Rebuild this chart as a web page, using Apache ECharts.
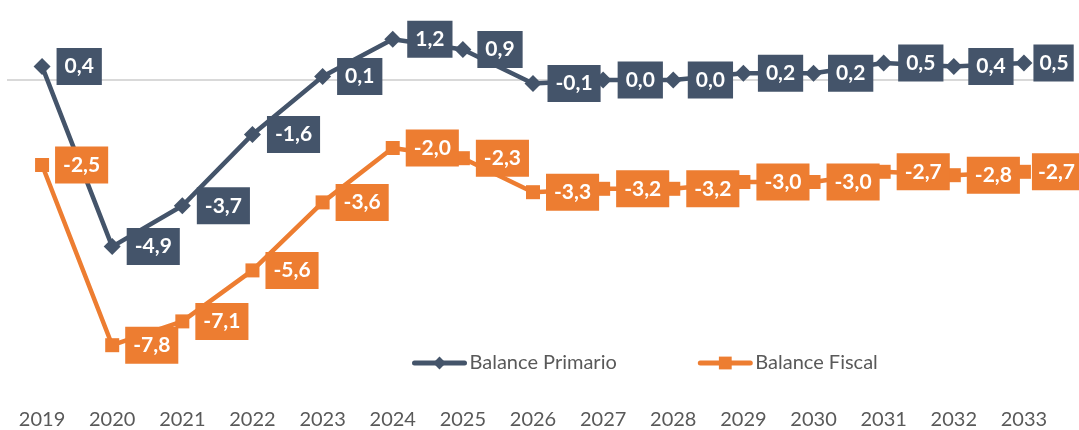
<!DOCTYPE html>
<html><head><meta charset="utf-8">
<script src="https://cdn.jsdelivr.net/npm/echarts@6/dist/echarts.min.js"></script>
<style>html,body{margin:0;padding:0;background:#fff}#c{width:1079px;height:430px}</style>
</head><body><div id="c"></div>
<script>
const years = ['2019','2020','2021','2022','2023','2024','2025','2026','2027','2028','2029','2030','2031','2032','2033'];
const primario = [0.4, -4.9, -3.7, -1.6, 0.1, 1.2, 0.9, -0.1, 0.0, 0.0, 0.2, 0.2, 0.5, 0.4, 0.5];
const fiscal = [-2.5, -7.8, -7.1, -5.6, -3.6, -2.0, -2.3, -3.3, -3.2, -3.2, -3.0, -3.0, -2.7, -2.8, -2.7];
const NAVY = '#44546A', ORANGE = '#ED7D31';
const fmt = p => p.value.toFixed(1).replace('.', ',');
function lbl(color){
  return {show:true, position:'right', distance:6, formatter:fmt, color:'#fff',
    fontFamily:'Lato', fontWeight:'bold', fontSize:21, backgroundColor:color,
    padding:[8,8,7,8], lineHeight:22};
}
// last point: labels sit tighter so they stay inside the picture
const items = arr => arr.map((v,i) => i === arr.length-1 ? {value:v, label:{distance:1, padding:[8,5,7,6]}} : v);
const chart = echarts.init(document.getElementById('c'));
chart.setOption({
  animation:false,
  grid:{left:7, right:20, top:12, bottom:44, containLabel:false},
  legend:{top:348, left:407, itemGap:81, itemWidth:50, itemHeight:16,
    lineStyle:{width:5, cap:'round'},
    textStyle:{color:'#595959', fontFamily:'Lato', fontSize:20},
    data:['Balance Primario','Balance Fiscal']},
  xAxis:{type:'category', data:years, boundaryGap:true,
    axisLine:{show:false}, axisTick:{show:false},
    axisLabel:{color:'#595959', fontFamily:'Lato', fontSize:20, margin:24}},
  yAxis:{type:'value', min:-9, max:2, show:false, splitLine:{show:false}},
  series:[
    {name:'Balance Primario', type:'line', data:items(primario), symbol:'diamond', symbolSize:17,
      lineStyle:{color:NAVY, width:4.5}, itemStyle:{color:NAVY}, label:lbl(NAVY), z:3,
      markLine:{silent:true, symbol:'none', label:{show:false},
        lineStyle:{color:'#D9D9D9', width:2, type:'solid'}, data:[{yAxis:0}], z:1}},
    {name:'Balance Fiscal', type:'line', data:items(fiscal), symbol:'rect', symbolSize:14,
      lineStyle:{color:ORANGE, width:4.5}, itemStyle:{color:ORANGE}, label:lbl(ORANGE), z:3}
  ]
});
</script></body></html>
